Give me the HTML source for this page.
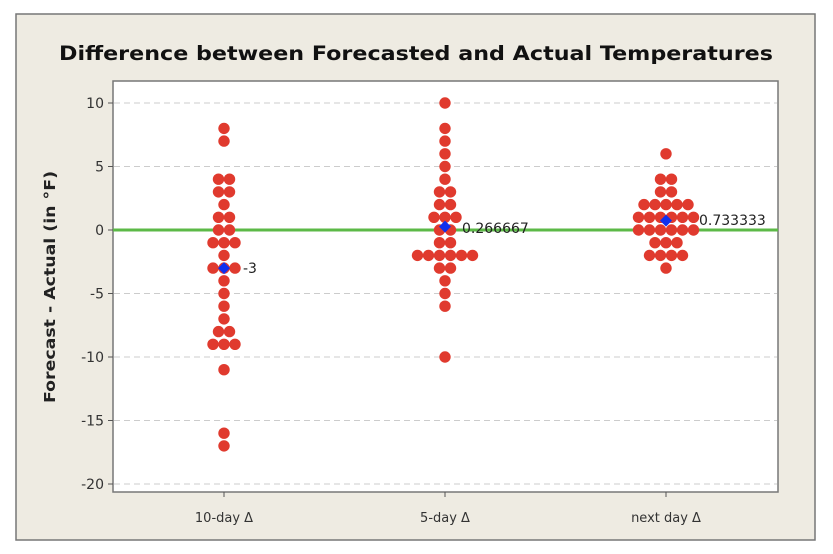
<!DOCTYPE html>
<html><head><meta charset="utf-8"><style>
html,body{margin:0;padding:0;background:#fff;}
svg{display:block;font-family:"DejaVu Sans","Liberation Sans",sans-serif;}
</style></head><body>
<svg id="s" width="833" height="554" xmlns="http://www.w3.org/2000/svg">
<rect x="16" y="14" width="799" height="526" fill="#eeebe2" stroke="#777" stroke-width="1.5"/>
<text x="416" y="60" text-anchor="middle" font-size="19.5" font-weight="bold" fill="#111" textLength="714" lengthAdjust="spacingAndGlyphs">Difference between Forecasted and Actual Temperatures</text>
<rect x="113" y="81" width="665" height="411" fill="#fff" stroke="#777" stroke-width="1.5"/>
<g id="grid"></g>
<line x1="113" x2="778" y1="230" y2="230" stroke="#5cb947" stroke-width="3"/>
<g id="dots"></g>
<text transform="translate(55,287) rotate(-90)" text-anchor="middle" font-size="15" font-weight="bold" fill="#222" textLength="232" lengthAdjust="spacingAndGlyphs">Forecast - Actual (in °F)</text>
<g font-size="13" fill="#333" text-anchor="middle">
<text x="224" y="522">10-day Δ</text>
<text x="445" y="522">5-day Δ</text>
<text x="666" y="522">next day Δ</text>
</g>
<line x1="224" x2="224" y1="492" y2="497" stroke="#555"/>
<line x1="445" x2="445" y1="492" y2="497" stroke="#555"/>
<line x1="666" x2="666" y1="492" y2="497" stroke="#555"/>
<g font-size="14" fill="#222">
<text x="243" y="273">-3</text>
<text x="462" y="233">0.266667</text>
<text x="699" y="225">0.733333</text>
</g>
</svg>
<script>
var ns="http://www.w3.org/2000/svg";
function Y(v){return 230-v*12.7;}
var g=document.getElementById('grid'),s=document.getElementById('s');
for(var v=10;v>=-20;v-=5){
 var y=Y(v);
 if(v!==0){var l=document.createElementNS(ns,'line');l.setAttribute('x1',114);l.setAttribute('x2',777);l.setAttribute('y1',y);l.setAttribute('y2',y);l.setAttribute('stroke','#ccc');l.setAttribute('stroke-dasharray','6,4');g.appendChild(l);}
 var t=document.createElementNS(ns,'line');t.setAttribute('x1',108);t.setAttribute('x2',113);t.setAttribute('y1',y);t.setAttribute('y2',y);t.setAttribute('stroke','#555');g.appendChild(t);
 var tx=document.createElementNS(ns,'text');tx.setAttribute('x',104);tx.setAttribute('y',y+5);tx.setAttribute('text-anchor','end');tx.setAttribute('font-size','14');tx.setAttribute('fill','#333');tx.textContent=v;g.appendChild(tx);
}
var d=document.getElementById('dots');
var cols=[[224,{8:1,7:1,4:2,3:2,2:1,1:2,0:2,"-1":3,"-2":1,"-3":3,"-4":1,"-5":1,"-6":1,"-7":1,"-8":2,"-9":3,"-11":1,"-16":1,"-17":1},-3],
[445,{10:1,8:1,7:1,6:1,5:1,4:1,3:2,2:2,1:3,0:2,"-1":2,"-2":6,"-3":2,"-4":1,"-5":1,"-6":1,"-10":1},0.266667],
[666,{6:1,4:2,3:2,2:5,1:6,0:6,"-1":3,"-2":4,"-3":1},0.733333]];
var sp=11;
cols.forEach(function(c){
 for(var k in c[1]){var n=c[1][k],v=+k;
  for(var i=0;i<n;i++){var cx=c[0]+(i-(n-1)/2)*sp;
   var ci=document.createElementNS(ns,'circle');ci.setAttribute('cx',cx);ci.setAttribute('cy',Y(v));ci.setAttribute('r',5.7);ci.setAttribute('fill','#e03a2e');d.appendChild(ci);}
 }
 var y=Y(c[2]),x=c[0];
 var p=document.createElementNS(ns,'polygon');p.setAttribute('points',(x-6)+','+y+' '+x+','+(y-6)+' '+(x+6)+','+y+' '+x+','+(y+6));p.setAttribute('fill','#1030ee');d.appendChild(p);
});
</script>
</body></html>
